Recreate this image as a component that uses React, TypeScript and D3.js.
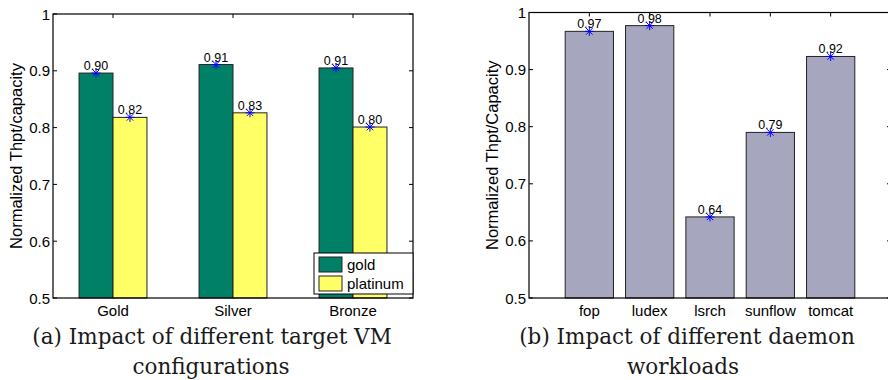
import React from 'react';
import * as d3 from 'd3';

// (a) target VM configurations
const configs = ['Gold', 'Silver', 'Bronze'];
const goldVals = [0.896, 0.911, 0.905];
const platinumVals = [0.818, 0.826, 0.801];
const goldLabels = ['0.90', '0.91', '0.91'];
const platinumLabels = ['0.82', '0.83', '0.80'];

// (b) daemon workloads
const workloads = ['fop', 'ludex', 'lsrch', 'sunflow', 'tomcat'];
const workloadVals = [0.967, 0.977, 0.642, 0.790, 0.923];
const workloadLabels = ['0.97', '0.98', '0.64', '0.79', '0.92'];

const yTicks = [0.5, 0.6, 0.7, 0.8, 0.9, 1];
const yTickLabels = ['0.5', '0.6', '0.7', '0.8', '0.9', '1'];

const GREEN = '#008066';
const YELLOW = '#ffff66';
const LAVENDER = '#a6a6bf';
const SANS = '"Liberation Sans", Arial, sans-serif';
const SERIF = '"DejaVu Serif", "Liberation Serif", serif';

const Star = ({ x, y }: { x: number; y: number }) => {
  const r = 4.5;
  const d = r * 0.72;
  return (
    <g stroke="#0000ff" strokeWidth={1}>
      <line x1={x - r} x2={x + r} y1={y} y2={y} />
      <line x1={x} x2={x} y1={y - r} y2={y + r} />
      <line x1={x - d} x2={x + d} y1={y - d} y2={y + d} />
      <line x1={x - d} x2={x + d} y1={y + d} y2={y - d} />
    </g>
  );
};

const YAxis = ({ y, left, right, label, labelX }: any) => (
  <g fontFamily={SANS}>
    {yTicks.map((t, i) => (
      <g key={t}>
        <text x={left - 3} y={y(t) + 5.5} fontSize={15} textAnchor="end">{yTickLabels[i]}</text>
        <line x1={left} x2={left + 4} y1={y(t)} y2={y(t)} stroke="#000" />
        <line x1={right} x2={right - 4} y1={y(t)} y2={y(t)} stroke="#000" />
      </g>
    ))}
    <text
      transform={`translate(${labelX},${(y(0.5) + y(1)) / 2}) rotate(-90)`}
      fontSize={16.5}
      textAnchor="middle"
    >
      {label}
    </text>
  </g>
);

const PanelA = () => {
  const left = 53, right = 413, top = 14, bottom = 298;
  const x = d3.scaleLinear().domain([0.5, 3.5]).range([left, right]);
  const y = d3.scaleLinear().domain([0.5, 1]).range([bottom, top]);
  const bw = x(0.283) - x(0);
  const series = [
    { vals: goldVals, labels: goldLabels, color: GREEN, off: -1 },
    { vals: platinumVals, labels: platinumLabels, color: YELLOW, off: 0 },
  ];
  return (
    <g>
      <YAxis y={y} left={left} right={right} label="Normalized Thpt/capacity" labelX={21.5} />
      {configs.map((c, i) => (
        <g key={c}>
          <line x1={x(i + 1)} x2={x(i + 1)} y1={top} y2={top + 4} stroke="#000" />
          <text x={x(i + 1)} y={bottom + 18} fontSize={15} fontFamily={SANS} textAnchor="middle">{c}</text>
        </g>
      ))}
      {series.map((s) =>
        s.vals.map((v, i) => {
          const x0 = x(i + 1) + s.off * bw;
          return (
            <rect key={s.color + i} x={x0} y={y(v)} width={bw} height={y(0.5) - y(v)} fill={s.color} stroke="#222" strokeWidth={1} />
          );
        })
      )}
      {series.map((s) =>
        s.vals.map((v, i) => {
          const cx = x(i + 1) + s.off * bw + bw / 2;
          return (
            <g key={'m' + s.color + i}>
              <text x={cx} y={y(v) - 3} fontSize={12.5} fontFamily={SANS} textAnchor="middle">{s.labels[i]}</text>
              <Star x={cx} y={y(v)} />
            </g>
          );
        })
      )}
      <rect x={left} y={top} width={right - left} height={bottom - top} fill="none" stroke="#000" strokeWidth={1.2} />
      <g fontFamily={SANS} fontSize={15}>
        <rect x={314} y={253} width={99} height={41} fill="#fff" stroke="#000" />
        <rect x={319} y={257} width={23} height={15} fill={GREEN} stroke="#222" />
        <rect x={319} y={276} width={23} height={15} fill={YELLOW} stroke="#222" />
        <text x={347} y={270}>gold</text>
        <text x={347} y={289}>platinum</text>
      </g>
    </g>
  );
};

const PanelB = () => {
  const left = 529, right = 891, top = 12.5, bottom = 298;
  const x = d3.scaleLinear().domain([0, 6]).range([left, right]);
  const y = d3.scaleLinear().domain([0.5, 1]).range([bottom, top]);
  const bw = x(0.8) - x(0);
  return (
    <g>
      <YAxis y={y} left={left} right={right} label="Normalized Thpt/Capacity" labelX={497.5} />
      {workloads.map((w, i) => (
        <g key={w}>
          <line x1={x(i + 1)} x2={x(i + 1)} y1={top} y2={top + 4} stroke="#000" />
          <text x={x(i + 1)} y={bottom + 18} fontSize={15} fontFamily={SANS} textAnchor="middle">{w}</text>
          <rect x={x(i + 1) - bw / 2} y={y(workloadVals[i])} width={bw} height={y(0.5) - y(workloadVals[i])} fill={LAVENDER} stroke="#222" />
          <text x={x(i + 1)} y={y(workloadVals[i]) - 3} fontSize={12.5} fontFamily={SANS} textAnchor="middle">{workloadLabels[i]}</text>
          <Star x={x(i + 1)} y={y(workloadVals[i])} />
        </g>
      ))}
      <rect x={left} y={top} width={right - left} height={bottom - top} fill="none" stroke="#000" strokeWidth={1.2} />
    </g>
  );
};

export default function App() {
  return (
    <svg
      width={888}
      height={380}
      style={{ position: 'absolute', left: 0, top: 0, background: '#fff' }}
    >
      <rect width={888} height={380} fill="#fff" />
      <PanelA />
      <PanelB />
      <g fontFamily={SERIF} fontSize={21.5} fill="#1a1a1a" textAnchor="middle">
        <text x={212} y={344}>(a) Impact of different target VM</text>
        <text x={211} y={374}>configurations</text>
        <text x={687} y={344}>(b) Impact of different daemon</text>
        <text x={683} y={374}>workloads</text>
      </g>
    </svg>
  );
}
